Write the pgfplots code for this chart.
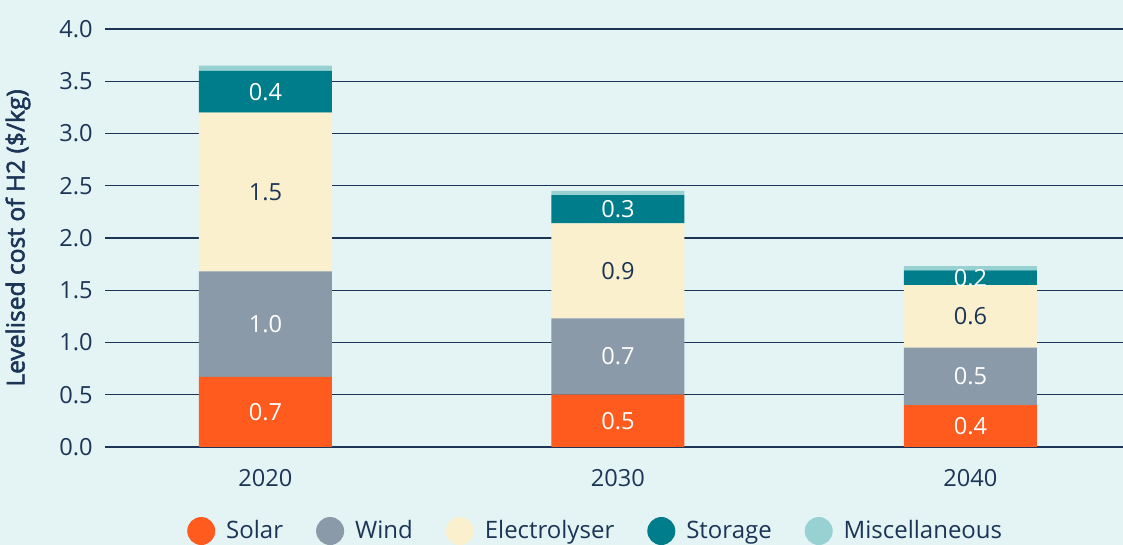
\documentclass[border=0pt]{standalone}
\usepackage{fontspec}
\setmainfont{Open Sans}
\newfontfamily\labelfont{Open Sans}[FakeBold=2.2]
\usepackage{pgfplots}
\pgfplotsset{compat=1.18}
\definecolor{bgcol}{HTML}{E4F4F4}
\definecolor{navy}{HTML}{1C3557}
\definecolor{solar}{HTML}{FF5B1F}
\definecolor{wind}{HTML}{8B9AA9}
\definecolor{elec}{HTML}{FAF0CE}
\definecolor{storage}{HTML}{007D8A}
\definecolor{misc}{HTML}{97D1D1}

\begin{document}
\begin{tikzpicture}[x=1pt,y=1pt,text=navy]
\fill[bgcol] (0,0) rectangle (561.5,272.5);
\useasboundingbox (0,0) rectangle (561.5,272.5);
\begin{axis}[
  at={(52.5pt,49pt)}, anchor=south west,
  scale only axis, width=509pt, height=209pt,
  ybar stacked, bar width=66.5pt,
  xmin=-0.455, xmax=2.433, ymin=0, ymax=4,
  xtick=data, xticklabels={2020,2030,2040},
  ytick={0,0.5,1,1.5,2,2.5,3,3.5,4},
  yticklabel style={/pgf/number format/fixed, /pgf/number format/fixed zerofill,
    /pgf/number format/precision=1, anchor=east, inner sep=0pt, xshift=-6pt},
  xticklabel style={anchor=north, inner sep=0pt, yshift=-11pt},
  /pgf/number format/assume math mode=true,
  tick label style={font=\fontsize{11.8}{14}\selectfont},
  axis line style={draw=none}, major tick length=0pt,
  ymajorgrids, grid style={navy, line width=0.6pt},
  ylabel={Levelised cost of H2 (\$/kg)},
  every axis y label/.style={at={(axis description cs:-0.0855,0.5)}, rotate=90,
    anchor=center, font=\fontsize{12.3}{14}\labelfont},
  legend columns=5,
  legend style={at={(0.483,-0.201)}, anchor=center, draw=none, fill=none,
    font=\fontsize{12}{14}\selectfont,
    /tikz/every odd column/.append style={column sep=3.5pt},
    /tikz/every even column/.append style={column sep=14.5pt}},
  legend image code/.code={\fill (7pt,0pt) circle (7pt);},
  seglabel/.style={nodes near coords, point meta=explicit symbolic,
    every node near coord/.append style={anchor=center,
      font=\fontsize{11.8}{14}\selectfont, text=#1}},
]
\addplot[fill=solar, draw=none, seglabel=white] coordinates {(0,0.67) [0.7] (1,0.50) [0.5] (2,0.40) [0.4]};
\addplot[fill=wind, draw=none, seglabel=white] coordinates {(0,1.01) [1.0] (1,0.73) [0.7] (2,0.55) [0.5]};
\addplot[fill=elec, draw=none, seglabel=navy] coordinates {(0,1.52) [1.5] (1,0.91) [0.9] (2,0.60) [0.6]};
\addplot[fill=storage, draw=none, seglabel=white] coordinates {(0,0.40) [0.4] (1,0.27) [0.3] (2,0.14) [0.2]};
\addplot[fill=misc, draw=none] coordinates {(0,0.05) (1,0.04) (2,0.04)};
\legend{Solar,Wind,Electrolyser,Storage,Miscellaneous}
\end{axis}
\end{tikzpicture}
\end{document}
